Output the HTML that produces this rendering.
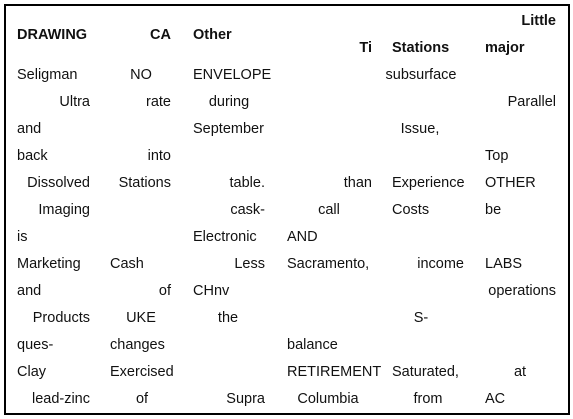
<!DOCTYPE html>
<html><head><meta charset="utf-8"><style>
html,body{margin:0;padding:0;background:#fff;}
body{width:573px;height:419px;position:relative;overflow:hidden;font-family:"Liberation Sans",sans-serif;font-size:14.5px;color:#111;}
.box{position:absolute;left:4px;top:4px;width:562px;height:407px;border:2px solid #000;}
span{position:absolute;line-height:16px;white-space:nowrap;}
.b{font-weight:bold;font-size:14.5px;}
.c{transform:translateX(-50%);}
</style></head><body>
<div class="box"></div>
<span class="b" style="left:17px;top:27px">DRAWING</span>
<span class="b" style="right:402px;top:27px">CA</span>
<span class="b" style="left:193px;top:27px">Other</span>
<span class="b" style="right:201px;top:40px">Ti</span>
<span class="b" style="left:392px;top:40px">Stations</span>
<span class="b" style="left:485px;top:40px">major</span>
<span class="b" style="right:17px;top:13px">Little</span>

<span style="left:17px;top:67px">Seligman</span>
<span class="c" style="left:141px;top:67px">NO</span>
<span style="left:193px;top:67px">ENVELOPE</span>
<span class="c" style="left:421px;top:67px">subsurface</span>

<span style="right:483px;top:94px">Ultra</span>
<span style="right:402px;top:94px">rate</span>
<span class="c" style="left:229px;top:94px">during</span>
<span style="right:17px;top:94px">Parallel</span>

<span style="left:17px;top:121px">and</span>
<span style="left:193px;top:121px">September</span>
<span class="c" style="left:420px;top:121px">Issue,</span>

<span style="left:17px;top:148px">back</span>
<span style="right:402px;top:148px">into</span>
<span style="left:485px;top:148px">Top</span>

<span style="right:483px;top:175px">Dissolved</span>
<span style="right:402px;top:175px">Stations</span>
<span style="right:308px;top:175px">table.</span>
<span style="right:201px;top:175px">than</span>
<span style="left:392px;top:175px">Experience</span>
<span style="left:485px;top:175px">OTHER</span>

<span style="right:483px;top:202px">Imaging</span>
<span style="right:308px;top:202px">cask-</span>
<span class="c" style="left:329px;top:202px">call</span>
<span style="left:392px;top:202px">Costs</span>
<span style="left:485px;top:202px">be</span>

<span style="left:17px;top:229px">is</span>
<span style="left:193px;top:229px">Electronic</span>
<span style="left:287px;top:229px">AND</span>

<span style="left:17px;top:256px">Marketing</span>
<span style="left:110px;top:256px">Cash</span>
<span style="right:308px;top:256px">Less</span>
<span style="left:287px;top:256px">Sacramento,</span>
<span style="right:109px;top:256px">income</span>
<span style="left:485px;top:256px">LABS</span>

<span style="left:17px;top:283px">and</span>
<span style="right:402px;top:283px">of</span>
<span style="left:193px;top:283px">CHnv</span>
<span style="right:17px;top:283px">operations</span>

<span style="right:483px;top:310px">Products</span>
<span class="c" style="left:141px;top:310px">UKE</span>
<span class="c" style="left:228px;top:310px">the</span>
<span class="c" style="left:421px;top:310px">S-</span>

<span style="left:17px;top:337px">ques-</span>
<span style="left:110px;top:337px">changes</span>
<span style="left:287px;top:337px">balance</span>

<span style="left:17px;top:364px">Clay</span>
<span style="left:110px;top:364px">Exercised</span>
<span style="left:287px;top:364px">RETIREMENT</span>
<span style="left:392px;top:364px">Saturated,</span>
<span class="c" style="left:520px;top:364px">at</span>

<span style="right:483px;top:391px">lead-zinc</span>
<span class="c" style="left:142px;top:391px">of</span>
<span style="right:308px;top:391px">Supra</span>
<span class="c" style="left:328px;top:391px">Columbia</span>
<span class="c" style="left:428px;top:391px">from</span>
<span style="left:485px;top:391px">AC</span>
</body></html>
